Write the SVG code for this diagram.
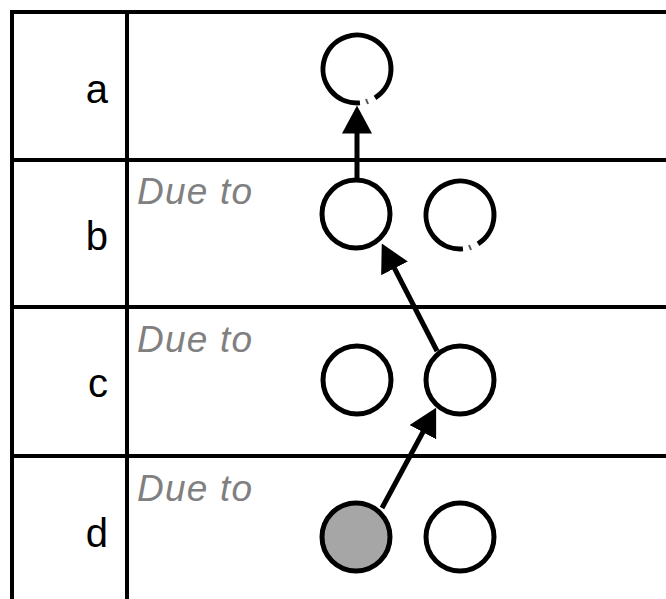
<svg xmlns="http://www.w3.org/2000/svg" width="666" height="599" viewBox="0 0 666 599">
<style>
.grid{stroke:#000;stroke-width:4;fill:none}
.lbl{font-family:"Liberation Sans",Arial,sans-serif;font-size:40px;fill:#000;text-anchor:end}
.due{font-family:"Liberation Sans",Arial,sans-serif;font-size:37px;font-style:italic;fill:#808080}
.node{stroke:#000;stroke-width:5;fill:#fff}
.loop{stroke:#000;stroke-width:5;fill:none}
.tick{stroke:#555;stroke-width:2;fill:none}
.edge{stroke:#000;stroke-width:5;fill:none;marker-end:url(#ah)}
</style>
<defs>
<marker id="ah" markerUnits="userSpaceOnUse" markerWidth="28" markerHeight="30" viewBox="0 0 26 28" refX="20" refY="14" orient="auto">
<path d="M0,0 L26,14 L0,28 z" fill="#000"/>
</marker>
</defs>
<rect width="666" height="599" fill="#fff"/>
<g id="table">
<path class="grid" d="M12,12 H666 M12,160 H666 M12,307 H666 M12,456 H666 M12,10 V599 M127,12 V599"/>
<text class="lbl" x="108" y="103">a</text>
<text class="lbl" x="108" y="250">b</text>
<text class="lbl" x="108" y="397">c</text>
<text class="lbl" x="108" y="547">d</text>
<text class="due" x="137" y="204" textLength="115" lengthAdjust="spacing">Due to</text>
<text class="due" x="137" y="352" textLength="115" lengthAdjust="spacing">Due to</text>
<text class="due" x="137" y="501" textLength="115" lengthAdjust="spacing">Due to</text>
</g>
<g id="connectors">
<line class="edge" x1="357" y1="180" x2="357" y2="112"/>
<line class="edge" x1="437" y1="351" x2="384.7" y2="249.3"/>
<line class="edge" x1="382" y1="508" x2="433.1" y2="413.3"/>
</g>
<g id="node-a">
<path class="loop" d="M359.96,102.87 A34,34 0 1 1 375.02,97.83"/>
<path class="tick" d="M366,99 L368,104"/>
</g>
<g id="node-b1"><circle class="node" cx="356" cy="214" r="34"/></g>
<g id="node-b2">
<path class="loop" d="M462.96,248.87 A34,34 0 1 1 478.02,243.83"/>
<path class="tick" d="M469,245 L471,250"/>
</g>
<g id="node-c1"><circle class="node" cx="357" cy="380" r="34"/></g>
<g id="node-c2"><circle class="node" cx="460" cy="380" r="34"/></g>
<g id="node-d1"><circle class="node" cx="356" cy="537" r="34" style="fill:#a6a6a6"/></g>
<g id="node-d2"><circle class="node" cx="460" cy="537" r="34"/></g>
</svg>
